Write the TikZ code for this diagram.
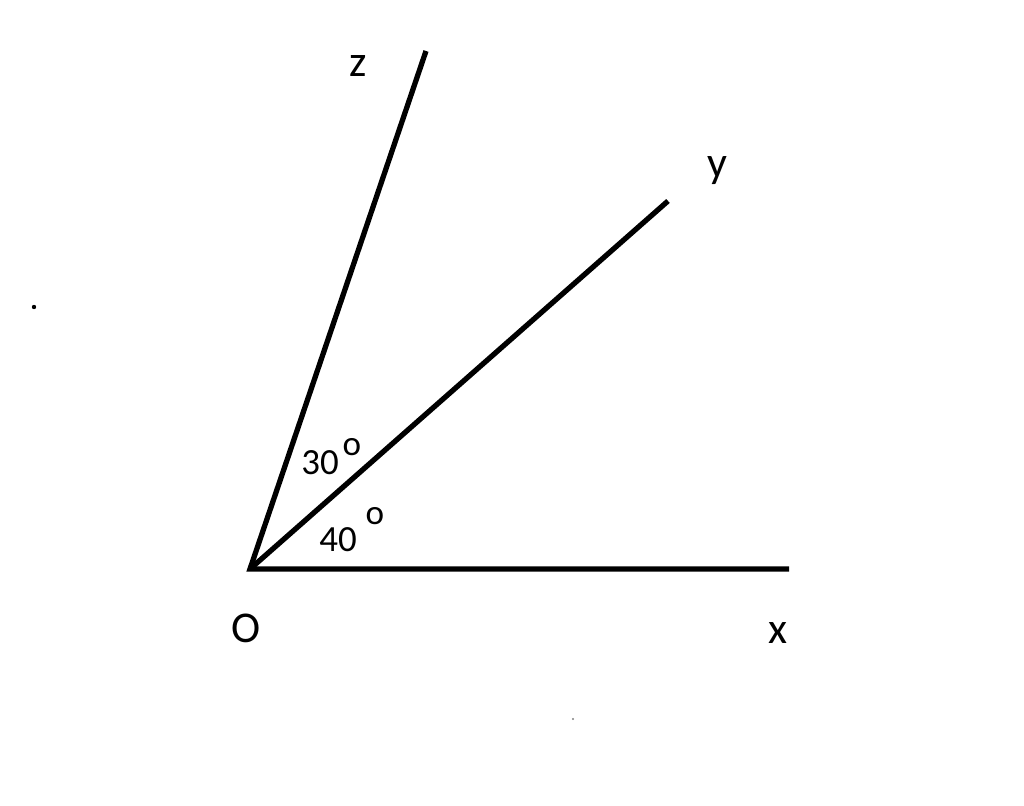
\documentclass[tikz,border=0pt]{standalone}
\usepackage{fontspec}
\setmainfont{Carlito}
\usepackage{tikz}

\tikzset{
  ray/.style={line width=3pt},
  axislabel/.style={anchor=base, inner sep=0pt, font=\fontsize{25}{28}\selectfont},
  anglelabel/.style={anchor=base, inner sep=0pt, font=\fontsize{21}{24}\selectfont},
  degmark/.style={anchor=base, inner sep=0pt, font=\fontsize{20}{22}\selectfont},
}

\begin{document}
\begin{tikzpicture}[x=0.02cm, y=0.02cm]
\useasboundingbox (0,0) rectangle (1024,805);
\coordinate (O) at (250,236);
\coordinate (X) at (789,236);
\coordinate (Y) at (668,604);
\coordinate (Z) at (426,754);
\draw[ray] (X) -- (O) -- (Z);
\draw[ray] (O) -- (Y);
\node[axislabel] (lz) at (358,728) {z};
\node[axislabel] (ly) at (717,627) {y};
\node[axislabel] (lo) at (246,163) {O};
\node[axislabel] (lx) at (778,162) {x};
\node[anglelabel] (a30) at (320,330) {30};
\node[degmark] (d30) at (352,349) {o};
\node[anglelabel] (a40) at (338,254) {40};
\node[degmark] (d40) at (375,280) {o};
% stray dots
\fill (34,498) circle (2.2);
\fill[gray] (573,86) circle (1.2);
\end{tikzpicture}
\end{document}
